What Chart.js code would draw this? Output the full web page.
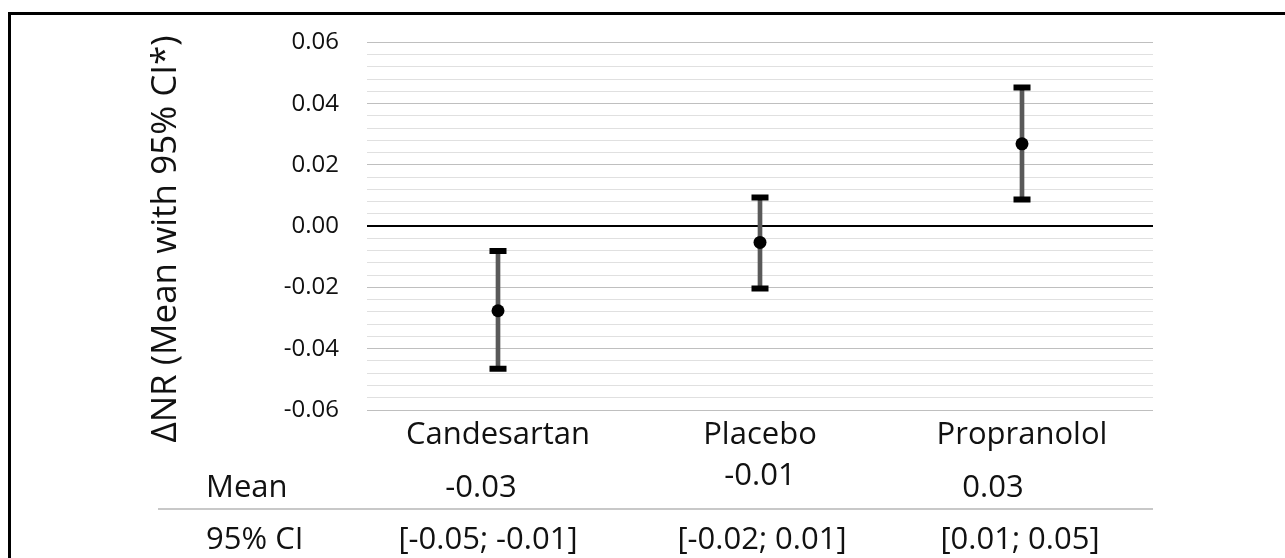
<!DOCTYPE html>
<html><head><meta charset="utf-8">
<script src="https://cdn.jsdelivr.net/npm/chart.js@4.4.1/dist/chart.umd.min.js"></script>
<style>
html,body{margin:0;padding:0;background:#fff;overflow:hidden;}
#wrap{position:relative;width:1285px;height:558px;overflow:hidden;}
#frame{position:absolute;left:8px;top:12px;width:1400px;height:700px;border-left:3px solid #000;border-top:3px solid #000;}
canvas{position:absolute;left:0;top:0;}
</style></head><body>
<div id="wrap"><div id="frame"></div><canvas id="c" width="1285" height="558"></canvas></div>
<script>
// ---- data ----
const categories = ['Candesartan', 'Placebo', 'Propranolol'];
const means = [-0.0276, -0.0053, 0.0269];
const ciLow = [-0.0465, -0.0203, 0.0087];
const ciHigh = [-0.0081, 0.0094, 0.0453];
const meanLabels = ['-0.03', '-0.01', '0.03'];
const ciLabels = ['[-0.05; -0.01]', '[-0.02; 0.01]', '[0.01; 0.05]'];
const rowLabels = ['Mean', '95% CI'];
const yTitle = 'ΔNR (Mean with 95% CI*)';
const yMin = -0.06, yMax = 0.06, yStep = 0.004, yMajor = 0.02;

// ---- helpers ----
const FONT = '"Open Sans", "Noto Sans", sans-serif';
const TEXT = '#111';
function isMajor(v) { return Math.abs(Math.round(v / yMajor) * yMajor - v) < 1e-9; }
function isZero(v) { return Math.abs(v) < 1e-9; }

const tablePlugin = {
  id: 'tableAndTitle',
  afterDraw(chart) {
    const ctx = chart.ctx;
    const xs = chart.scales.x;
    const area = chart.chartArea;
    // rotated y title
    ctx.save();
    ctx.translate(166, 239);
    ctx.rotate(-Math.PI / 2);
    ctx.font = '35px ' + FONT;
    ctx.fillStyle = TEXT;
    ctx.textAlign = 'center';
    ctx.textBaseline = 'middle';
    ctx.fillText(yTitle, 0, 0);
    ctx.restore();

    // table
    ctx.save();
    ctx.font = '31px ' + FONT;
    ctx.fillStyle = TEXT;
    ctx.textBaseline = 'alphabetic';
    ctx.textAlign = 'left';
    ctx.fillText(rowLabels[0], 206, 497);
    ctx.fillText(rowLabels[1], 206, 549);
    ctx.strokeStyle = '#c8c8c8';
    ctx.lineWidth = 2;
    ctx.beginPath();
    ctx.moveTo(158, 509);
    ctx.lineTo(area.right, 509);
    ctx.stroke();
    const meanDx = [-17, 0, -29], meanY = [497, 485, 497];
    const ciDx = [-10, 2, -2];
    ctx.textAlign = 'center';
    for (let i = 0; i < categories.length; i++) {
      const x = xs.getPixelForValue(i);
      ctx.fillText(meanLabels[i], x + meanDx[i], meanY[i]);
      ctx.fillText(ciLabels[i], x + ciDx[i], 549);
    }
    ctx.restore();
  }
};

new Chart(document.getElementById('c'), {
  type: 'bar',
  data: {
    labels: categories,
    datasets: [
      { type: 'line', label: 'Mean', data: means, showLine: false,
        pointRadius: 6.5, pointHoverRadius: 6.5, pointBackgroundColor: '#000', pointBorderColor: '#000', pointBorderWidth: 0, order: 1 },
      { type: 'line', label: 'Upper', data: ciHigh, showLine: false, pointStyle: 'line',
        pointRadius: 8.5, pointHoverRadius: 8.5, pointBorderColor: '#000', pointBorderWidth: 6, order: 2 },
      { type: 'line', label: 'Lower', data: ciLow, showLine: false, pointStyle: 'line',
        pointRadius: 8.5, pointHoverRadius: 8.5, pointBorderColor: '#000', pointBorderWidth: 6, order: 2 },
      { type: 'bar', label: 'CI', data: ciLow.map((l, i) => [l, ciHigh[i]]),
        backgroundColor: '#595959', barThickness: 4, order: 3 }
    ]
  },
  options: {
    responsive: false,
    animation: false,
    devicePixelRatio: 1,
    layout: { padding: { top: 39, right: 132, left: 0, bottom: 0 } },
    plugins: { legend: { display: false }, tooltip: { enabled: false } },
    scales: {
      x: {
        type: 'category', offset: true,
        afterFit(s) { s.height = 148; },
        grid: { display: false, drawTicks: false },
        border: { display: false },
        ticks: { padding: 7, color: TEXT, font: { family: FONT, size: 31 } }
      },
      y: {
        min: yMin, max: yMax,
        afterFit(s) { s.width = 367; },
        border: { display: false },
        grid: {
          drawTicks: false,
          color(c) { const v = c.tick.value; return isZero(v) ? '#000' : (isMajor(v) ? '#bfbfbf' : '#e0e0e0'); },
          lineWidth(c) { return isZero(c.tick.value) ? 2 : 1; }
        },
        ticks: {
          stepSize: yStep, autoSkip: false, padding: 28, color: TEXT,
          font: { family: FONT, size: 24 },
          callback(v) { return isMajor(v) ? (isZero(v) ? '0.00' : v.toFixed(2)) : ''; }
        }
      }
    }
  },
  plugins: [tablePlugin]
});
</script>
</body></html>
